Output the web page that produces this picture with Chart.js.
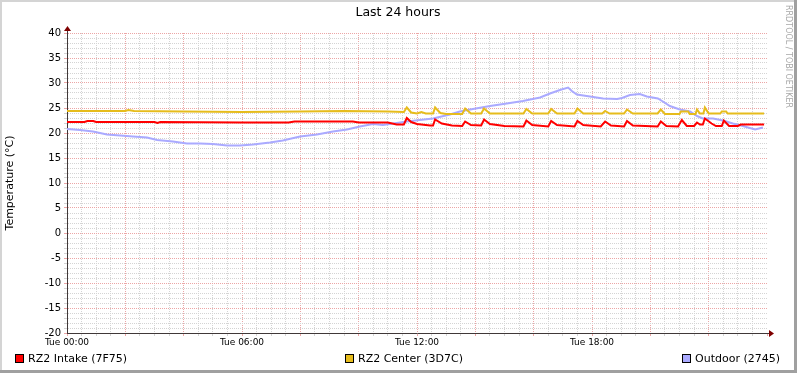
<!DOCTYPE html>
<html lang="en">
<head>
<meta charset="UTF-8">
<title>Last 24 hours</title>
<script src="https://cdn.jsdelivr.net/npm/chart.js"></script>
<style>
  html, body { margin: 0; padding: 0; background: #fff; }
  #wrap { position: relative; width: 797px; height: 373px; }
</style>
</head>
<body>
<div id="wrap"><canvas id="tempChart" width="797" height="373"></canvas></div>
<script>
// hours since Tue 00:00 and temperature (°C)
const intakeT = [0, 0.6, 0.7, 0.9, 1.0, 3.0, 3.1, 3.2, 6.0, 7.6, 7.8, 9.8, 10.0, 11.0, 11.3, 11.55, 11.65, 11.8, 12.0, 12.45,
  12.55, 12.62, 12.85, 13.2, 13.55, 13.65, 13.85, 14.2, 14.3, 14.5, 15.0, 15.65, 15.75, 15.95, 16.5, 16.6, 16.8, 17.4, 17.5, 17.7,
  18.3, 18.45, 18.65, 19.1, 19.2, 19.4, 20.25, 20.36, 20.55, 20.95, 21.08, 21.25, 21.5, 21.6, 21.7, 21.8, 21.87, 22.1, 22.25, 22.45,
  22.52, 22.7, 23.0, 23.1, 23.9];
const intakeV = [22.2, 22.2, 22.4, 22.4, 22.2, 22.2, 22.0, 22.2, 22.1, 22.1, 22.3, 22.3, 22.1, 22.1, 21.7, 21.7, 23.0, 22.2, 21.8, 21.5,
  21.5, 22.7, 21.9, 21.5, 21.4, 22.3, 21.6, 21.5, 22.7, 21.8, 21.4, 21.3, 22.5, 21.6, 21.3, 22.4, 21.6, 21.3, 22.4, 21.6,
  21.3, 22.3, 21.5, 21.3, 22.4, 21.5, 21.3, 22.3, 21.4, 21.3, 22.6, 21.4, 21.4, 22.1, 21.7, 21.7, 22.9, 21.9, 21.4, 21.4,
  22.5, 21.4, 21.4, 21.7, 21.7];

const centerT = [0, 2.0, 2.1, 2.3, 4.0, 6.0, 8.0, 9.5, 11.0, 11.55, 11.65, 11.8, 12.0, 12.15, 12.3, 12.55, 12.62, 12.8, 13.0, 13.55,
  13.65, 13.85, 14.2, 14.3, 14.5, 15.65, 15.75, 15.95, 16.5, 16.6, 16.8, 17.4, 17.5, 17.7, 18.35, 18.45, 18.6, 19.1, 19.2, 19.4,
  20.25, 20.36, 20.5, 21.0, 21.05, 21.3, 21.35, 21.55, 21.6, 21.7, 21.82, 21.87, 22.0, 22.4, 22.45, 22.6, 22.65, 23.9];
const centerV = [24.4, 24.4, 24.6, 24.4, 24.3, 24.2, 24.3, 24.4, 24.3, 24.2, 25.1, 24.1, 23.9, 24.2, 23.9, 23.9, 25.1, 24.0, 23.8, 23.8,
  24.9, 23.9, 23.9, 24.9, 23.9, 23.9, 24.8, 23.9, 23.9, 24.8, 23.9, 23.9, 24.9, 23.9, 23.9, 24.4, 23.9, 23.9, 24.7, 23.9,
  23.9, 24.7, 23.8, 23.8, 24.3, 24.3, 23.8, 23.8, 24.7, 23.9, 23.9, 25.1, 23.9, 23.9, 24.3, 24.3, 23.9, 23.9];

const outdoorT = [0, 0.45, 0.89, 1.37, 1.82, 2.26, 2.74, 3.09, 3.63, 4.11, 4.56, 5.0, 5.49, 5.93, 6.38, 6.96, 7.4, 7.99, 8.57, 9.12,
  9.6, 10.04, 10.49, 10.83, 11.18, 11.66, 12.1, 12.55, 13.13, 13.47, 13.92, 14.5, 15.08, 15.63, 16.22, 16.56, 16.9, 17.18, 17.31, 17.48,
  17.93, 18.38, 18.86, 19.03, 19.3, 19.64, 19.88, 20.26, 20.43, 20.67, 21.01, 21.36, 21.6, 21.8, 22.15, 22.49, 22.83, 23.17, 23.59, 23.86];
const outdoorV = [20.8, 20.6, 20.3, 19.7, 19.5, 19.3, 19.1, 18.6, 18.3, 17.9, 17.9, 17.8, 17.5, 17.5, 17.7, 18.1, 18.5, 19.3, 19.7, 20.3,
  20.7, 21.3, 21.8, 21.6, 21.9, 22.3, 22.6, 22.9, 23.7, 24.3, 24.8, 25.4, 25.9, 26.4, 27.1, 27.9, 28.6, 29.1, 28.4, 27.7,
  27.3, 26.9, 26.8, 27.0, 27.6, 27.8, 27.3, 26.9, 26.3, 25.4, 24.7, 24.3, 23.4, 22.9, 22.9, 22.5, 21.9, 21.4, 20.7, 21.1];

const seriesNames = ['RZ2 Intake (7F75)', 'RZ2 Center (3D7C)', 'Outdoor (2745)'];
const seriesColors = ['#ff0000', '#e6bc1c', '#aaaaff'];
const xTickLabels = ['Tue 00:00', 'Tue 06:00', 'Tue 12:00', 'Tue 18:00'];

const FONT = 'DejaVu Sans';
const AXIS = '#403838';
const MINOR = '#d4d4d4';
const MAJOR = '#eca6a6';

function points(ts, vs) {
    return ts.map((t, i) => ({ x: t, y: vs[i] }));
}

const decor = {
    id: 'rrdDecor',
    beforeDraw(chart) {
        const ctx = chart.ctx;
        ctx.save();
        ctx.fillStyle = '#ffffff';
        ctx.fillRect(0, 0, 797, 373);
        // 3d-ish frame
        ctx.fillStyle = '#d4d4d4';
        ctx.fillRect(0, 0, 797, 2);
        ctx.fillRect(0, 0, 2, 373);
        ctx.fillStyle = '#a0a0a0';
        ctx.fillRect(0, 370, 797, 3);
        ctx.fillRect(794, 0, 3, 373);
        ctx.restore();
    },
    afterDraw(chart) {
        const ctx = chart.ctx;
        const a = chart.chartArea;
        ctx.save();
        // axis extensions + arrows
        ctx.strokeStyle = AXIS;
        ctx.lineWidth = 1;
        ctx.beginPath();
        ctx.moveTo(a.left + 0.5, a.top);
        ctx.lineTo(a.left + 0.5, a.top - 3);
        ctx.moveTo(a.right, a.bottom + 0.5);
        ctx.lineTo(a.right + 3, a.bottom + 0.5);
        ctx.stroke();
        ctx.fillStyle = '#7f0000';
        ctx.beginPath();
        ctx.moveTo(a.left + 0.5, a.top - 7);
        ctx.lineTo(a.left - 3, a.top - 2);
        ctx.lineTo(a.left + 4, a.top - 2);
        ctx.closePath();
        ctx.fill();
        ctx.beginPath();
        ctx.moveTo(a.right + 7, a.bottom + 0.5);
        ctx.lineTo(a.right + 2, a.bottom - 3);
        ctx.lineTo(a.right + 2, a.bottom + 4);
        ctx.closePath();
        ctx.fill();

        // title
        ctx.fillStyle = '#000';
        ctx.textAlign = 'center';
        ctx.textBaseline = 'middle';
        ctx.font = '12.5px "' + FONT + '"';
        ctx.fillText('Last 24 hours', 398, 13);

        // legend
        const boxX = [15, 345, 682];
        ctx.font = '11px "' + FONT + '"';
        ctx.textAlign = 'left';
        seriesNames.forEach((name, i) => {
            ctx.fillStyle = seriesColors[i];
            ctx.fillRect(boxX[i], 354, 9, 9);
            ctx.strokeStyle = '#000';
            ctx.strokeRect(boxX[i] + 0.5, 354.5, 8, 8);
            ctx.fillStyle = '#000';
            ctx.fillText(name, boxX[i] + 13, 359);
        });

        // watermark
        ctx.translate(788, 5);
        ctx.rotate(Math.PI / 2);
        ctx.fillStyle = '#a8a8a8';
        ctx.font = '8px "' + FONT + '"';
        ctx.textBaseline = 'middle';
        ctx.fillText('RRDTOOL / TOBI OETIKER', 0, 0);
        ctx.restore();
    }
};

new Chart(document.getElementById('tempChart'), {
    type: 'line',
    data: {
        datasets: [
            { label: seriesNames[0], data: points(intakeT, intakeV), borderColor: seriesColors[0], borderWidth: 2 },
            { label: seriesNames[1], data: points(centerT, centerV), borderColor: seriesColors[1], borderWidth: 2 },
            { label: seriesNames[2], data: points(outdoorT, outdoorV), borderColor: seriesColors[2], borderWidth: 2 }
        ]
    },
    options: {
        responsive: false,
        animation: false,
        devicePixelRatio: 1,
        layout: { padding: { top: 33, right: 30, left: 0, bottom: 0 } },
        elements: {
            line: { tension: 0, fill: false, borderJoinStyle: 'miter' },
            point: { radius: 0, hoverRadius: 0 }
        },
        plugins: {
            legend: { display: false },
            tooltip: { enabled: false }
        },
        scales: {
            x: {
                type: 'linear',
                min: 0,
                max: 24,
                afterFit: s => { s.height = 40; },
                border: { color: AXIS, width: 1, dash: [1, 1] },
                grid: {
                    color: c => c.tick.value >= 24 ? 'rgba(0,0,0,0)' : (c.tick.value % 2 === 0 ? MAJOR : MINOR),
                    tickColor: c => c.tick.value % 2 === 0 ? MAJOR : MINOR,
                    tickLength: 3
                },
                ticks: {
                    stepSize: 0.5,
                    autoSkip: false,
                    maxRotation: 0,
                    padding: 1,
                    color: '#000',
                    font: { family: FONT, size: 9 },
                    callback: v => (v % 6 === 0 && v < 24) ? xTickLabels[v / 6] : ''
                }
            },
            y: {
                min: -20,
                max: 40,
                afterFit: s => { s.width = 67; },
                border: { color: AXIS, width: 1, dash: [1, 1] },
                grid: {
                    color: c => c.tick.value % 5 === 0 ? MAJOR : MINOR,
                    tickColor: c => c.tick.value % 5 === 0 ? MAJOR : MINOR,
                    tickLength: 3
                },
                title: {
                    display: true,
                    text: 'Temperature (°C)',
                    color: '#000',
                    font: { family: FONT, size: 11 },
                    padding: { top: 4, bottom: 0 }
                },
                ticks: {
                    stepSize: 1,
                    autoSkip: false,
                    padding: 3,
                    color: '#000',
                    font: { family: FONT, size: 10 },
                    callback: v => v % 5 === 0 ? String(v) : ''
                }
            }
        }
    },
    plugins: [decor]
});
</script>
</body>
</html>
